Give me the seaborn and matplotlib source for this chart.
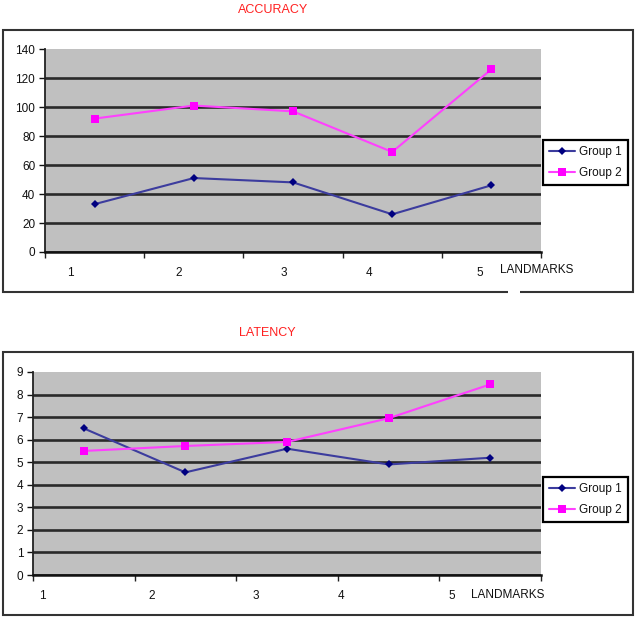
import matplotlib
matplotlib.use("Agg")
import matplotlib.pyplot as plt
from matplotlib.patches import Rectangle
import seaborn as sns
import pandas as pd
import numpy as np

landmarks = [1, 2, 3, 4, 5]
groups = ["Group 1", "Group 2"]
acc_g1 = [33, 51, 48, 26, 46]
acc_g2 = [92, 101, 97, 69, 126]
lat_g1 = [6.5, 4.55, 5.6, 4.9, 5.2]
lat_g2 = [5.5, 5.72, 5.9, 6.95, 8.45]
acc_yticks = [0, 20, 40, 60, 80, 100, 120, 140]
lat_yticks = [0, 1, 2, 3, 4, 5, 6, 7, 8, 9]

sns.set_theme(style="white")
plt.rcParams['font.family'] = ['Liberation Sans', 'DejaVu Sans']

W, H = 638, 618
fig = plt.figure(figsize=(W / 100, H / 100), dpi=100)
fig.patch.set_facecolor("white")

line_colors = {"Group 1": "#3C3C9E", "Group 2": "#FF40FF"}
marker_colors = {"Group 1": "#000080", "Group 2": "#FF00FF"}
markers = {"Group 1": "D", "Group 2": "s"}
msizes = {"Group 1": 4.5, "Group 2": 5.5}


def make_df(g1, g2):
    return pd.DataFrame({
        "landmark": landmarks * 2,
        "value": list(g1) + list(g2),
        "group": [groups[0]] * len(g1) + [groups[1]] * len(g2),
    })


def px_axes(left, top, right, bottom):
    return fig.add_axes([left / W, 1 - bottom / H, (right - left) / W, (bottom - top) / H])


def style_line(line, g):
    line.set_markerfacecolor(marker_colors[g])
    line.set_markeredgecolor(marker_colors[g])
    line.set_markeredgewidth(0)
    line.set_markersize(msizes[g])


def draw_chart(ax, df, yticks, label_pos, xlabel_xy, legend_xy, box, title, title_xy):
    ax.set_facecolor("#C0C0C0")
    sns.lineplot(data=df, x="landmark", y="value", hue="group", style="group",
                 palette=line_colors, markers=markers, dashes=False, ax=ax,
                 linewidth=1.5, markersize=6, markeredgewidth=0)
    for line in ax.lines:
        for g in groups:
            if line.get_color() == line_colors[g]:
                style_line(line, g)
    ax.set_xlim(0.5, 5.5)
    ax.set_ylim(yticks[0], yticks[-1])
    ax.set_yticks(yticks)
    ax.set_yticklabels([str(t) for t in yticks])
    ax.set_xticks(label_pos)
    ax.set_xticklabels([str(l) for l in landmarks])
    ax.set_xticks(np.arange(0.5, 5.6, 1.0), minor=True)
    ax.tick_params(axis="x", which="major", length=0, pad=11, labelsize=8.5, colors="#111111")
    ax.tick_params(axis="x", which="minor", length=4, width=1, direction="out", color="#222222", bottom=True)
    ax.tick_params(axis="y", which="major", length=4, width=1, direction="out", pad=3,
                   labelsize=8.5, colors="#111111", left=True)
    ax.yaxis.grid(True, color="#2a2a2a", linewidth=1.9)
    ax.xaxis.grid(False)
    ax.set_axisbelow(True)
    ax.yaxis.get_gridlines()[-1].set_visible(False)
    for s in ["top", "right"]:
        ax.spines[s].set_visible(False)
    ax.spines["left"].set_color("#222222")
    ax.spines["left"].set_linewidth(1.3)
    ax.spines["bottom"].set_color("#111111")
    ax.spines["bottom"].set_linewidth(1.8)
    ax.set_ylabel("")
    ax.set_xlabel("LANDMARKS", fontsize=8.5, color="#111111", ha="left", va="center")
    ax.xaxis.set_label_coords(*xlabel_xy)
    handles, labels = ax.get_legend_handles_labels()
    for h, l in zip(handles, labels):
        if l in groups:
            style_line(h, l)
    leg = ax.legend(handles, labels, loc="upper left",
                    bbox_to_anchor=(legend_xy[0] / W, 1 - legend_xy[1] / H),
                    bbox_transform=fig.transFigure, frameon=True, fancybox=False,
                    edgecolor="black", framealpha=1, fontsize=8.5, handlelength=2.2,
                    handletextpad=0.35, borderpad=0.5, labelspacing=0.75, borderaxespad=0)
    leg.get_frame().set_linewidth(1.6)
    for t in leg.get_texts():
        t.set_color("#111111")
    fig.add_artist(Rectangle((box[0] / W, 1 - box[3] / H), (box[2] - box[0]) / W,
                             (box[3] - box[1]) / H, transform=fig.transFigure,
                             facecolor="none", edgecolor="#333333", linewidth=1.5))
    fig.text(title_xy[0] / W, 1 - title_xy[1] / H, title, color="#FF2020", fontsize=9,
             ha="center", va="center")


ax1 = px_axes(45, 49, 541, 252)
draw_chart(ax1, make_df(acc_g1, acc_g2), acc_yticks,
           [0.76, 1.85, 2.91, 3.77, 4.88], (0.917, -0.089), (543, 140),
           (3, 30, 633, 292), "ACCURACY", (273, 10))
# small break in bottom border of the first chart
fig.add_artist(Rectangle((508 / W, 1 - 295 / H), 12 / W, 6 / H, transform=fig.transFigure,
                         facecolor="white", edgecolor="none"))

ax2 = px_axes(33, 372, 541, 575)
draw_chart(ax2, make_df(lat_g1, lat_g2), lat_yticks,
           [0.59, 1.67, 2.69, 3.53, 4.62], (0.862, -0.099), (543, 477),
           (3, 352, 633, 615), "LATENCY", (267, 333))

fig.savefig("out.png", dpi=100, facecolor="white")
